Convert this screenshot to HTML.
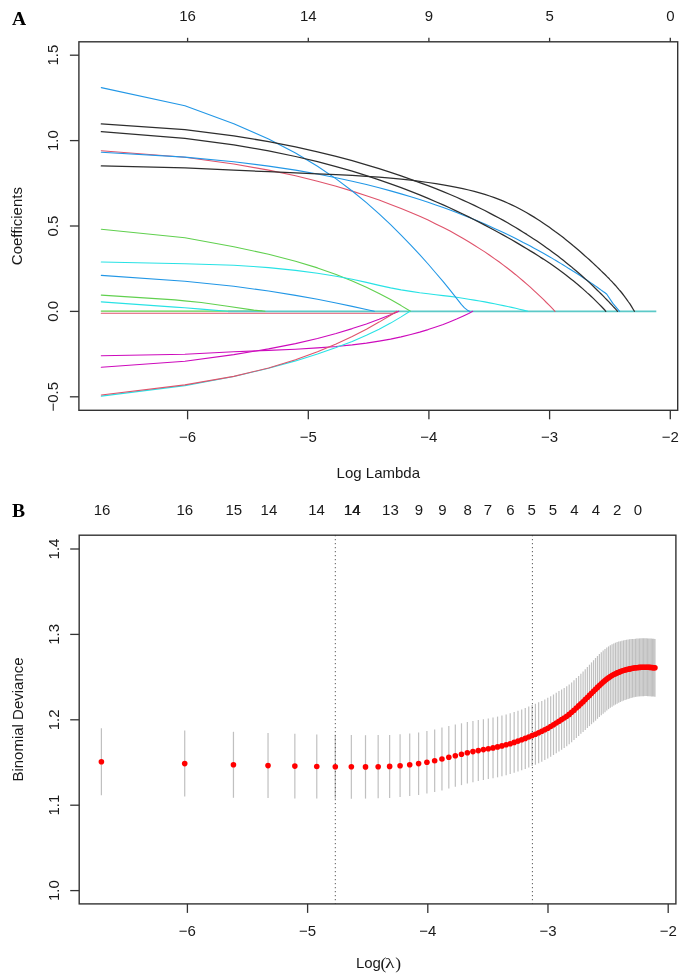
<!DOCTYPE html>
<html><head><meta charset="utf-8"><style>
html,body{margin:0;padding:0;background:#fff;}
body{width:685px;height:973px;overflow:hidden;font-family:"Liberation Sans",sans-serif;}
svg{display:block;filter:blur(0.3px);}
</style></head><body>
<svg width="685" height="973" viewBox="0 0 685 973">
<rect width="685" height="973" fill="#fff"/>
<polyline points="101.3,313.3 394.0,313.3 399.0,311.3" fill="none" stroke="#DF536B" stroke-width="1.1" stroke-linejoin="round" stroke-linecap="round"/>
<polyline points="101.3,311.1 262.0,311.1" fill="none" stroke="#61D04F" stroke-width="1.25" stroke-linejoin="round" stroke-linecap="round"/>
<line x1="228" y1="311.3" x2="656.3" y2="311.3" stroke="#5CC9C8" stroke-width="1.7"/>
<polyline points="101.3,295.1 175.0,299.9 184.5,300.9 201.3,302.5 227.6,306.2 253.8,310.1 265.0,311.3" fill="none" stroke="#61D04F" stroke-width="1.1" stroke-linejoin="round" stroke-linecap="round"/>
<polyline points="101.3,301.9 175.0,307.1 184.5,307.8 201.3,309.1 227.6,311.3" fill="none" stroke="#28E2E5" stroke-width="1.1" stroke-linejoin="round" stroke-linecap="round"/>
<polyline points="101.3,275.4 184.9,281.3 233.8,286.3 268.6,291.0 295.5,295.4 317.5,299.3 336.1,303.0 352.2,306.4 366.4,309.5 374.3,311.3" fill="none" stroke="#2297E6" stroke-width="1.1" stroke-linejoin="round" stroke-linecap="round"/>
<polyline points="101.3,229.2 184.9,237.7 233.8,246.7 268.6,254.2 295.5,261.2 317.5,267.9 336.1,274.5 352.2,280.9 366.4,287.3 379.1,293.5 390.6,299.6 401.1,305.6 410.5,311.3" fill="none" stroke="#61D04F" stroke-width="1.1" stroke-linejoin="round" stroke-linecap="round"/>
<polyline points="101.3,262.0 184.9,263.8 233.8,265.2 268.6,267.6 295.5,270.4 317.5,273.3 336.1,276.2 352.2,279.3 366.4,282.4 379.1,285.4 390.6,287.9 401.1,289.9 410.8,291.4 419.7,292.7 428.1,293.7 435.8,294.7 443.2,295.6 450.1,296.4 456.6,297.3 462.8,298.3 468.7,299.2 474.3,300.1 479.6,301.0 484.8,301.9 489.7,302.9 494.4,303.8 499.0,304.7 503.4,305.6 507.6,306.5 511.7,307.4 515.7,308.3 519.5,309.2 523.2,310.1 526.8,311.0 527.8,311.3" fill="none" stroke="#28E2E5" stroke-width="1.1" stroke-linejoin="round" stroke-linecap="round"/>
<polyline points="101.3,355.8 184.9,354.3 233.8,351.8 268.6,350.4 295.5,349.2 317.5,347.9 336.1,346.5 352.2,344.9 366.4,343.1 379.1,341.1 390.6,339.1 401.1,336.9 410.8,334.5 419.7,332.1 428.1,329.6 435.8,327.0 443.2,324.4 450.1,321.7 456.6,319.0 462.8,316.2 468.7,313.4 472.7,311.3" fill="none" stroke="#CD0BBC" stroke-width="1.1" stroke-linejoin="round" stroke-linecap="round"/>
<polyline points="101.3,367.2 184.9,361.2 233.8,354.6 268.6,348.9 295.5,343.6 317.5,338.5 336.1,333.5 352.2,328.6 366.4,323.9 379.1,319.3 390.6,314.7 398.7,311.3" fill="none" stroke="#CD0BBC" stroke-width="1.1" stroke-linejoin="round" stroke-linecap="round"/>
<polyline points="101.3,396.1 184.9,385.6 233.8,376.5 268.6,368.3 295.5,360.9 317.5,354.0 336.1,347.6 352.2,341.4 366.4,335.3 379.1,329.2 390.6,323.1 401.1,316.9 410.0,311.3" fill="none" stroke="#28E2E5" stroke-width="1.1" stroke-linejoin="round" stroke-linecap="round"/>
<polyline points="101.3,395.0 184.9,384.9 233.8,376.4 268.6,368.0 295.5,359.8 317.5,351.8 336.1,344.0 352.2,336.5 366.4,329.2 379.1,322.1 390.6,315.2 396.8,311.3" fill="none" stroke="#DF536B" stroke-width="1.1" stroke-linejoin="round" stroke-linecap="round"/>
<polyline points="101.3,150.7 184.9,157.2 233.8,164.0 268.6,170.1 295.5,175.8 317.5,181.2 336.1,186.2 352.2,191.1 366.4,195.7 379.1,200.1 390.6,204.4 401.1,208.5 410.8,212.4 419.7,216.3 428.1,220.1 435.8,223.9 443.2,227.5 450.1,231.1 456.6,234.7 462.8,238.2 468.7,241.7 474.3,245.2 479.6,248.6 484.8,251.9 489.7,255.3 494.4,258.6 499.0,261.8 503.4,265.1 507.6,268.3 511.7,271.5 515.7,274.7 519.5,277.9 523.2,281.0 526.8,284.1 530.3,287.2 533.7,290.3 537.0,293.4 540.2,296.4 543.4,299.4 546.4,302.5 549.4,305.4 552.3,308.4 555.0,311.3" fill="none" stroke="#DF536B" stroke-width="1.1" stroke-linejoin="round" stroke-linecap="round"/>
<polyline points="101.3,152.2 184.9,157.1 233.8,161.7 268.6,166.1 295.5,170.1 317.5,174.0 336.1,177.7 352.2,181.2 366.4,184.5 379.1,187.8 390.6,190.9 401.1,193.9 410.8,196.8 419.7,199.6 428.1,202.3 435.8,205.0 443.2,207.5 450.1,210.1 456.6,212.5 462.8,214.9 468.7,217.3 474.3,219.6 479.6,221.8 484.8,224.1 489.7,226.2 494.4,228.4 499.0,230.5 503.4,232.5 507.6,234.6 511.7,236.5 515.7,238.5 519.5,240.4 523.2,242.4 526.8,244.2 530.3,246.1 533.7,247.9 537.0,249.7 540.2,251.5 543.4,253.3 546.4,255.0 549.4,256.7 552.3,258.4 555.1,260.1 557.9,261.7 560.6,263.4 563.3,265.0 565.9,266.6 568.4,268.2 570.9,269.7 573.3,271.3 575.7,272.8 578.1,274.3 580.4,275.8 582.6,277.3 584.8,278.8 587.0,280.2 589.2,281.7 591.3,283.1 593.3,284.5 595.3,285.9 597.3,287.3 599.3,288.7 601.2,290.1 603.1,291.5 605.0,292.8 606.8,294.2 612.9,303.4 619.6,311.3" fill="none" stroke="#2297E6" stroke-width="1.1" stroke-linejoin="round" stroke-linecap="round"/>
<polyline points="101.3,87.6 184.9,105.8 233.8,123.7 268.6,139.0 295.5,153.0 317.5,166.3 336.1,178.9 352.2,191.0 366.4,202.7 379.1,213.9 390.6,224.7 401.1,235.1 410.8,245.1 419.7,254.7 428.1,264.0 435.8,273.0 443.2,281.7 450.1,290.2 456.6,298.4 461.5,304.7 464.5,307.9 468.0,310.6 469.5,311.3" fill="none" stroke="#2297E6" stroke-width="1.1" stroke-linejoin="round" stroke-linecap="round"/>
<polyline points="101.3,165.9 184.9,167.9 233.8,170.2 268.6,171.7 295.5,172.8 317.5,173.8 336.1,174.6 352.2,175.4 366.4,176.3 379.1,177.2 390.6,178.1 401.1,179.1 410.8,180.2 419.7,181.3 428.1,182.5 435.8,183.6 443.2,184.9 450.1,186.1 456.6,187.4 462.8,188.7 468.7,190.0 474.3,191.4 479.6,192.9 484.8,194.4 489.7,196.0 494.4,197.6 499.0,199.3 503.4,201.1 507.6,203.0 511.7,204.9 515.7,206.8 519.5,208.8 523.2,210.8 526.8,212.8 530.3,214.9 533.7,216.9 537.0,219.0 540.2,221.1 543.4,223.2 546.4,225.2 549.4,227.3 552.3,229.4 555.1,231.5 557.9,233.5 560.6,235.6 563.3,237.6 565.9,239.7 568.4,241.7 570.9,243.7 573.3,245.8 575.7,247.8 578.1,249.8 580.4,251.7 582.6,253.7 584.8,255.7 587.0,257.6 589.2,259.5 591.3,261.5 593.3,263.4 595.3,265.3 597.3,267.1 599.3,269.0 601.2,270.9 603.1,272.7 605.0,274.5 606.8,276.4 608.7,278.2 610.4,280.1 612.2,281.9 613.9,283.8 615.7,285.7 617.3,287.6 619.0,289.6 620.7,291.5 622.3,293.5 623.9,295.6 625.4,297.7 627.0,299.8 628.5,302.0 630.1,304.2 631.6,306.6 633.0,309.0 634.4,311.3" fill="none" stroke="#2e2e2e" stroke-width="1.25" stroke-linejoin="round" stroke-linecap="round"/>
<polyline points="101.3,131.7 184.9,138.3 233.8,144.9 268.6,150.9 295.5,156.5 317.5,161.7 336.1,166.6 352.2,171.2 366.4,175.6 379.1,179.8 390.6,183.8 401.1,187.7 410.8,191.4 419.7,194.9 428.1,198.4 435.8,201.7 443.2,204.9 450.1,208.0 456.6,211.1 462.8,214.0 468.7,216.9 474.3,219.7 479.6,222.4 484.8,225.1 489.7,227.7 494.4,230.2 499.0,232.7 503.4,235.1 507.6,237.5 511.7,239.8 515.7,242.1 519.5,244.4 523.2,246.6 526.8,248.7 530.3,250.9 533.7,252.9 537.0,255.0 540.2,257.1 543.4,259.1 546.4,261.1 549.4,263.1 552.3,265.1 555.1,267.1 557.9,269.1 560.6,271.0 563.3,273.0 565.9,274.9 568.4,276.9 570.9,278.9 573.3,280.8 575.7,282.8 578.1,284.7 580.4,286.7 582.6,288.6 584.8,290.6 587.0,292.6 589.2,294.5 591.3,296.5 593.3,298.4 595.3,300.4 597.3,302.4 599.3,304.4 601.2,306.3 603.1,308.3 605.0,310.3 605.8,311.3" fill="none" stroke="#2e2e2e" stroke-width="1.25" stroke-linejoin="round" stroke-linecap="round"/>
<polyline points="101.3,123.9 184.9,129.6 233.8,135.8 268.6,141.6 295.5,146.9 317.5,151.8 336.1,156.4 352.2,160.7 366.4,164.8 379.1,168.7 390.6,172.4 401.1,175.9 410.8,179.3 419.7,182.6 428.1,185.7 435.8,188.7 443.2,191.7 450.1,194.5 456.6,197.3 462.8,200.1 468.7,202.7 474.3,205.4 479.6,208.0 484.8,210.5 489.7,213.1 494.4,215.6 499.0,218.0 503.4,220.4 507.6,222.8 511.7,225.2 515.7,227.5 519.5,229.9 523.2,232.2 526.8,234.4 530.3,236.7 533.7,238.9 537.0,241.1 540.2,243.3 543.4,245.5 546.4,247.7 549.4,249.8 552.3,251.9 555.1,254.0 557.9,256.1 560.6,258.2 563.3,260.3 565.9,262.4 568.4,264.4 570.9,266.4 573.3,268.5 575.7,270.5 578.1,272.5 580.4,274.5 582.6,276.5 584.8,278.5 587.0,280.4 589.2,282.4 591.3,284.4 593.3,286.3 595.3,288.3 597.3,290.2 599.3,292.1 601.2,294.0 603.1,295.9 605.0,297.9 606.8,299.7 608.7,301.6 610.4,303.5 612.2,305.4 613.9,307.3 615.7,309.1 617.5,311.3" fill="none" stroke="#2e2e2e" stroke-width="1.25" stroke-linejoin="round" stroke-linecap="round"/>
<rect x="78.9" y="41.8" width="598.8" height="368.5" fill="none" stroke="#333" stroke-width="1.4"/>
<line x1="187.6" y1="410.3" x2="187.6" y2="419.3" stroke="#333" stroke-width="1.3"/>
<text x="187.6" y="442.3" font-family="'Liberation Sans', sans-serif" font-size="15" fill="#1a1a1a" text-anchor="middle">−6</text>
<line x1="308.3" y1="410.3" x2="308.3" y2="419.3" stroke="#333" stroke-width="1.3"/>
<text x="308.3" y="442.3" font-family="'Liberation Sans', sans-serif" font-size="15" fill="#1a1a1a" text-anchor="middle">−5</text>
<line x1="428.9" y1="410.3" x2="428.9" y2="419.3" stroke="#333" stroke-width="1.3"/>
<text x="428.9" y="442.3" font-family="'Liberation Sans', sans-serif" font-size="15" fill="#1a1a1a" text-anchor="middle">−4</text>
<line x1="549.6" y1="410.3" x2="549.6" y2="419.3" stroke="#333" stroke-width="1.3"/>
<text x="549.6" y="442.3" font-family="'Liberation Sans', sans-serif" font-size="15" fill="#1a1a1a" text-anchor="middle">−3</text>
<line x1="670.3" y1="410.3" x2="670.3" y2="419.3" stroke="#333" stroke-width="1.3"/>
<text x="670.3" y="442.3" font-family="'Liberation Sans', sans-serif" font-size="15" fill="#1a1a1a" text-anchor="middle">−2</text>
<line x1="69.9" y1="396.8" x2="78.9" y2="396.8" stroke="#333" stroke-width="1.3"/>
<text transform="translate(57.9,396.8) rotate(-90)" font-family="'Liberation Sans', sans-serif" font-size="15" fill="#1a1a1a" text-anchor="middle">−0.5</text>
<line x1="69.9" y1="311.4" x2="78.9" y2="311.4" stroke="#333" stroke-width="1.3"/>
<text transform="translate(57.9,311.4) rotate(-90)" font-family="'Liberation Sans', sans-serif" font-size="15" fill="#1a1a1a" text-anchor="middle">0.0</text>
<line x1="69.9" y1="226.0" x2="78.9" y2="226.0" stroke="#333" stroke-width="1.3"/>
<text transform="translate(57.9,226.0) rotate(-90)" font-family="'Liberation Sans', sans-serif" font-size="15" fill="#1a1a1a" text-anchor="middle">0.5</text>
<line x1="69.9" y1="140.6" x2="78.9" y2="140.6" stroke="#333" stroke-width="1.3"/>
<text transform="translate(57.9,140.6) rotate(-90)" font-family="'Liberation Sans', sans-serif" font-size="15" fill="#1a1a1a" text-anchor="middle">1.0</text>
<line x1="69.9" y1="55.2" x2="78.9" y2="55.2" stroke="#333" stroke-width="1.3"/>
<text transform="translate(57.9,55.2) rotate(-90)" font-family="'Liberation Sans', sans-serif" font-size="15" fill="#1a1a1a" text-anchor="middle">1.5</text>
<line x1="187.6" y1="37.8" x2="187.6" y2="41.8" stroke="#333" stroke-width="1.3"/>
<text x="187.6" y="21.1" font-family="'Liberation Sans', sans-serif" font-size="15" fill="#1a1a1a" text-anchor="middle">16</text>
<line x1="308.3" y1="37.8" x2="308.3" y2="41.8" stroke="#333" stroke-width="1.3"/>
<text x="308.3" y="21.1" font-family="'Liberation Sans', sans-serif" font-size="15" fill="#1a1a1a" text-anchor="middle">14</text>
<line x1="428.9" y1="37.8" x2="428.9" y2="41.8" stroke="#333" stroke-width="1.3"/>
<text x="428.9" y="21.1" font-family="'Liberation Sans', sans-serif" font-size="15" fill="#1a1a1a" text-anchor="middle">9</text>
<line x1="549.6" y1="37.8" x2="549.6" y2="41.8" stroke="#333" stroke-width="1.3"/>
<text x="549.6" y="21.1" font-family="'Liberation Sans', sans-serif" font-size="15" fill="#1a1a1a" text-anchor="middle">5</text>
<line x1="670.3" y1="37.8" x2="670.3" y2="41.8" stroke="#333" stroke-width="1.3"/>
<text x="670.3" y="21.1" font-family="'Liberation Sans', sans-serif" font-size="15" fill="#1a1a1a" text-anchor="middle">0</text>
<text x="378.3" y="478.1" font-family="'Liberation Sans', sans-serif" font-size="15" fill="#1a1a1a" text-anchor="middle">Log Lambda</text>
<text transform="translate(22.2,226.1) rotate(-90)" font-family="'Liberation Sans', sans-serif" font-size="15" fill="#1a1a1a" text-anchor="middle">Coefficients</text>
<text x="11.9" y="24.5" font-family="'Liberation Serif', serif" font-weight="bold" font-size="19.6" fill="#000">A</text>
<line x1="101.40" y1="728.2" x2="101.40" y2="795.2" stroke="#9a9a9a" stroke-opacity="0.62" stroke-width="1.2"/>
<line x1="184.72" y1="730.6" x2="184.72" y2="796.6" stroke="#9a9a9a" stroke-opacity="0.62" stroke-width="1.2"/>
<line x1="233.45" y1="731.8" x2="233.45" y2="797.8" stroke="#9a9a9a" stroke-opacity="0.62" stroke-width="1.2"/>
<line x1="268.03" y1="733.1" x2="268.03" y2="798.1" stroke="#9a9a9a" stroke-opacity="0.62" stroke-width="1.2"/>
<line x1="294.85" y1="733.8" x2="294.85" y2="798.5" stroke="#9a9a9a" stroke-opacity="0.62" stroke-width="1.2"/>
<line x1="316.77" y1="734.4" x2="316.77" y2="798.6" stroke="#9a9a9a" stroke-opacity="0.62" stroke-width="1.2"/>
<line x1="335.30" y1="734.8" x2="335.30" y2="798.7" stroke="#9a9a9a" stroke-opacity="0.62" stroke-width="1.2"/>
<line x1="351.35" y1="735.0" x2="351.35" y2="798.7" stroke="#9a9a9a" stroke-opacity="0.62" stroke-width="1.2"/>
<line x1="365.51" y1="735.2" x2="365.51" y2="798.6" stroke="#9a9a9a" stroke-opacity="0.62" stroke-width="1.2"/>
<line x1="378.17" y1="735.1" x2="378.17" y2="798.3" stroke="#9a9a9a" stroke-opacity="0.62" stroke-width="1.2"/>
<line x1="389.63" y1="734.9" x2="389.63" y2="797.9" stroke="#9a9a9a" stroke-opacity="0.62" stroke-width="1.2"/>
<line x1="400.08" y1="734.3" x2="400.08" y2="797.1" stroke="#9a9a9a" stroke-opacity="0.62" stroke-width="1.2"/>
<line x1="409.71" y1="733.5" x2="409.71" y2="796.1" stroke="#9a9a9a" stroke-opacity="0.62" stroke-width="1.2"/>
<line x1="418.61" y1="732.4" x2="418.61" y2="794.9" stroke="#9a9a9a" stroke-opacity="0.62" stroke-width="1.2"/>
<line x1="426.91" y1="731.1" x2="426.91" y2="793.5" stroke="#9a9a9a" stroke-opacity="0.62" stroke-width="1.2"/>
<line x1="434.66" y1="729.4" x2="434.66" y2="792.0" stroke="#9a9a9a" stroke-opacity="0.62" stroke-width="1.2"/>
<line x1="441.95" y1="727.6" x2="441.95" y2="790.4" stroke="#9a9a9a" stroke-opacity="0.62" stroke-width="1.2"/>
<line x1="448.82" y1="726.1" x2="448.82" y2="788.6" stroke="#9a9a9a" stroke-opacity="0.62" stroke-width="1.2"/>
<line x1="455.32" y1="724.6" x2="455.32" y2="786.8" stroke="#9a9a9a" stroke-opacity="0.62" stroke-width="1.2"/>
<line x1="461.49" y1="723.3" x2="461.49" y2="785.1" stroke="#9a9a9a" stroke-opacity="0.62" stroke-width="1.2"/>
<line x1="467.35" y1="722.0" x2="467.35" y2="783.6" stroke="#9a9a9a" stroke-opacity="0.62" stroke-width="1.2"/>
<line x1="472.94" y1="721.0" x2="472.94" y2="782.3" stroke="#9a9a9a" stroke-opacity="0.62" stroke-width="1.2"/>
<line x1="478.29" y1="720.1" x2="478.29" y2="781.1" stroke="#9a9a9a" stroke-opacity="0.62" stroke-width="1.2"/>
<line x1="483.40" y1="719.2" x2="483.40" y2="780.0" stroke="#9a9a9a" stroke-opacity="0.62" stroke-width="1.2"/>
<line x1="488.31" y1="718.4" x2="488.31" y2="779.1" stroke="#9a9a9a" stroke-opacity="0.62" stroke-width="1.2"/>
<line x1="493.02" y1="717.5" x2="493.02" y2="778.2" stroke="#9a9a9a" stroke-opacity="0.62" stroke-width="1.2"/>
<line x1="497.56" y1="716.6" x2="497.56" y2="777.3" stroke="#9a9a9a" stroke-opacity="0.62" stroke-width="1.2"/>
<line x1="501.93" y1="715.6" x2="501.93" y2="776.2" stroke="#9a9a9a" stroke-opacity="0.62" stroke-width="1.2"/>
<line x1="506.15" y1="714.5" x2="506.15" y2="775.2" stroke="#9a9a9a" stroke-opacity="0.62" stroke-width="1.2"/>
<line x1="510.22" y1="713.3" x2="510.22" y2="774.0" stroke="#9a9a9a" stroke-opacity="0.62" stroke-width="1.2"/>
<line x1="514.16" y1="712.0" x2="514.16" y2="772.8" stroke="#9a9a9a" stroke-opacity="0.62" stroke-width="1.2"/>
<line x1="517.98" y1="710.7" x2="517.98" y2="771.5" stroke="#9a9a9a" stroke-opacity="0.62" stroke-width="1.2"/>
<line x1="521.68" y1="709.4" x2="521.68" y2="770.2" stroke="#9a9a9a" stroke-opacity="0.62" stroke-width="1.2"/>
<line x1="525.27" y1="708.0" x2="525.27" y2="768.9" stroke="#9a9a9a" stroke-opacity="0.62" stroke-width="1.2"/>
<line x1="528.75" y1="706.6" x2="528.75" y2="767.5" stroke="#9a9a9a" stroke-opacity="0.62" stroke-width="1.2"/>
<line x1="532.14" y1="705.1" x2="532.14" y2="766.1" stroke="#9a9a9a" stroke-opacity="0.62" stroke-width="1.2"/>
<line x1="535.43" y1="703.8" x2="535.43" y2="764.7" stroke="#9a9a9a" stroke-opacity="0.62" stroke-width="1.2"/>
<line x1="538.64" y1="702.3" x2="538.64" y2="763.2" stroke="#9a9a9a" stroke-opacity="0.62" stroke-width="1.2"/>
<line x1="541.76" y1="700.9" x2="541.76" y2="761.7" stroke="#9a9a9a" stroke-opacity="0.62" stroke-width="1.2"/>
<line x1="544.80" y1="699.4" x2="544.80" y2="760.1" stroke="#9a9a9a" stroke-opacity="0.62" stroke-width="1.2"/>
<line x1="547.77" y1="697.8" x2="547.77" y2="758.5" stroke="#9a9a9a" stroke-opacity="0.62" stroke-width="1.2"/>
<line x1="550.67" y1="696.2" x2="550.67" y2="756.8" stroke="#9a9a9a" stroke-opacity="0.62" stroke-width="1.2"/>
<line x1="553.50" y1="694.5" x2="553.50" y2="755.0" stroke="#9a9a9a" stroke-opacity="0.62" stroke-width="1.2"/>
<line x1="556.26" y1="692.8" x2="556.26" y2="753.2" stroke="#9a9a9a" stroke-opacity="0.62" stroke-width="1.2"/>
<line x1="558.96" y1="691.1" x2="558.96" y2="751.4" stroke="#9a9a9a" stroke-opacity="0.62" stroke-width="1.2"/>
<line x1="561.60" y1="689.5" x2="561.60" y2="749.7" stroke="#9a9a9a" stroke-opacity="0.62" stroke-width="1.2"/>
<line x1="564.19" y1="688.0" x2="564.19" y2="747.9" stroke="#9a9a9a" stroke-opacity="0.62" stroke-width="1.2"/>
<line x1="566.72" y1="686.3" x2="566.72" y2="746.2" stroke="#9a9a9a" stroke-opacity="0.62" stroke-width="1.2"/>
<line x1="569.20" y1="684.5" x2="569.20" y2="744.2" stroke="#9a9a9a" stroke-opacity="0.62" stroke-width="1.2"/>
<line x1="571.62" y1="682.5" x2="571.62" y2="742.2" stroke="#9a9a9a" stroke-opacity="0.62" stroke-width="1.2"/>
<line x1="574.00" y1="680.3" x2="574.00" y2="740.1" stroke="#9a9a9a" stroke-opacity="0.62" stroke-width="1.2"/>
<line x1="576.34" y1="678.1" x2="576.34" y2="737.9" stroke="#9a9a9a" stroke-opacity="0.62" stroke-width="1.2"/>
<line x1="578.63" y1="675.9" x2="578.63" y2="735.9" stroke="#9a9a9a" stroke-opacity="0.62" stroke-width="1.2"/>
<line x1="580.87" y1="673.7" x2="580.87" y2="733.8" stroke="#9a9a9a" stroke-opacity="0.62" stroke-width="1.2"/>
<line x1="583.08" y1="671.5" x2="583.08" y2="731.9" stroke="#9a9a9a" stroke-opacity="0.62" stroke-width="1.2"/>
<line x1="585.25" y1="669.3" x2="585.25" y2="729.9" stroke="#9a9a9a" stroke-opacity="0.62" stroke-width="1.2"/>
<line x1="587.37" y1="667.0" x2="587.37" y2="727.9" stroke="#9a9a9a" stroke-opacity="0.62" stroke-width="1.2"/>
<line x1="589.46" y1="664.7" x2="589.46" y2="726.1" stroke="#9a9a9a" stroke-opacity="0.62" stroke-width="1.2"/>
<line x1="591.52" y1="662.4" x2="591.52" y2="724.2" stroke="#9a9a9a" stroke-opacity="0.62" stroke-width="1.2"/>
<line x1="593.54" y1="660.2" x2="593.54" y2="722.4" stroke="#9a9a9a" stroke-opacity="0.62" stroke-width="1.2"/>
<line x1="595.53" y1="658.0" x2="595.53" y2="720.7" stroke="#9a9a9a" stroke-opacity="0.62" stroke-width="1.2"/>
<line x1="597.48" y1="656.0" x2="597.48" y2="718.8" stroke="#9a9a9a" stroke-opacity="0.62" stroke-width="1.2"/>
<line x1="599.40" y1="654.1" x2="599.40" y2="717.0" stroke="#9a9a9a" stroke-opacity="0.62" stroke-width="1.2"/>
<line x1="601.30" y1="652.3" x2="601.30" y2="715.3" stroke="#9a9a9a" stroke-opacity="0.62" stroke-width="1.2"/>
<line x1="603.16" y1="650.6" x2="603.16" y2="713.7" stroke="#9a9a9a" stroke-opacity="0.62" stroke-width="1.2"/>
<line x1="605.00" y1="649.0" x2="605.00" y2="712.2" stroke="#9a9a9a" stroke-opacity="0.62" stroke-width="1.2"/>
<line x1="606.80" y1="647.6" x2="606.80" y2="710.6" stroke="#9a9a9a" stroke-opacity="0.62" stroke-width="1.2"/>
<line x1="608.58" y1="646.4" x2="608.58" y2="709.1" stroke="#9a9a9a" stroke-opacity="0.62" stroke-width="1.2"/>
<line x1="610.34" y1="645.3" x2="610.34" y2="707.8" stroke="#9a9a9a" stroke-opacity="0.62" stroke-width="1.2"/>
<line x1="612.07" y1="644.3" x2="612.07" y2="706.7" stroke="#9a9a9a" stroke-opacity="0.62" stroke-width="1.2"/>
<line x1="613.77" y1="643.5" x2="613.77" y2="705.6" stroke="#9a9a9a" stroke-opacity="0.62" stroke-width="1.2"/>
<line x1="615.45" y1="642.7" x2="615.45" y2="704.6" stroke="#9a9a9a" stroke-opacity="0.62" stroke-width="1.2"/>
<line x1="617.11" y1="642.1" x2="617.11" y2="703.7" stroke="#9a9a9a" stroke-opacity="0.62" stroke-width="1.2"/>
<line x1="618.75" y1="641.6" x2="618.75" y2="702.8" stroke="#9a9a9a" stroke-opacity="0.62" stroke-width="1.2"/>
<line x1="620.36" y1="641.2" x2="620.36" y2="702.0" stroke="#9a9a9a" stroke-opacity="0.62" stroke-width="1.2"/>
<line x1="621.95" y1="640.8" x2="621.95" y2="701.2" stroke="#9a9a9a" stroke-opacity="0.62" stroke-width="1.2"/>
<line x1="623.52" y1="640.4" x2="623.52" y2="700.6" stroke="#9a9a9a" stroke-opacity="0.62" stroke-width="1.2"/>
<line x1="625.08" y1="640.1" x2="625.08" y2="699.9" stroke="#9a9a9a" stroke-opacity="0.62" stroke-width="1.2"/>
<line x1="626.61" y1="639.8" x2="626.61" y2="699.4" stroke="#9a9a9a" stroke-opacity="0.62" stroke-width="1.2"/>
<line x1="628.12" y1="639.6" x2="628.12" y2="698.9" stroke="#9a9a9a" stroke-opacity="0.62" stroke-width="1.2"/>
<line x1="629.61" y1="639.3" x2="629.61" y2="698.4" stroke="#9a9a9a" stroke-opacity="0.62" stroke-width="1.2"/>
<line x1="631.09" y1="639.1" x2="631.09" y2="698.0" stroke="#9a9a9a" stroke-opacity="0.62" stroke-width="1.2"/>
<line x1="632.54" y1="639.0" x2="632.54" y2="697.6" stroke="#9a9a9a" stroke-opacity="0.62" stroke-width="1.2"/>
<line x1="633.98" y1="638.9" x2="633.98" y2="697.2" stroke="#9a9a9a" stroke-opacity="0.62" stroke-width="1.2"/>
<line x1="635.41" y1="638.8" x2="635.41" y2="696.9" stroke="#9a9a9a" stroke-opacity="0.62" stroke-width="1.2"/>
<line x1="636.81" y1="638.6" x2="636.81" y2="696.7" stroke="#9a9a9a" stroke-opacity="0.62" stroke-width="1.2"/>
<line x1="638.20" y1="638.5" x2="638.20" y2="696.6" stroke="#9a9a9a" stroke-opacity="0.62" stroke-width="1.2"/>
<line x1="639.57" y1="638.4" x2="639.57" y2="696.4" stroke="#9a9a9a" stroke-opacity="0.62" stroke-width="1.2"/>
<line x1="640.93" y1="638.3" x2="640.93" y2="696.3" stroke="#9a9a9a" stroke-opacity="0.62" stroke-width="1.2"/>
<line x1="642.28" y1="638.3" x2="642.28" y2="696.2" stroke="#9a9a9a" stroke-opacity="0.62" stroke-width="1.2"/>
<line x1="643.60" y1="638.3" x2="643.60" y2="696.2" stroke="#9a9a9a" stroke-opacity="0.62" stroke-width="1.2"/>
<line x1="644.92" y1="638.3" x2="644.92" y2="696.1" stroke="#9a9a9a" stroke-opacity="0.62" stroke-width="1.2"/>
<line x1="646.22" y1="638.3" x2="646.22" y2="696.1" stroke="#9a9a9a" stroke-opacity="0.62" stroke-width="1.2"/>
<line x1="647.50" y1="638.4" x2="647.50" y2="696.2" stroke="#9a9a9a" stroke-opacity="0.62" stroke-width="1.2"/>
<line x1="648.77" y1="638.4" x2="648.77" y2="696.2" stroke="#9a9a9a" stroke-opacity="0.62" stroke-width="1.2"/>
<line x1="650.03" y1="638.5" x2="650.03" y2="696.3" stroke="#9a9a9a" stroke-opacity="0.62" stroke-width="1.2"/>
<line x1="651.28" y1="638.6" x2="651.28" y2="696.4" stroke="#9a9a9a" stroke-opacity="0.62" stroke-width="1.2"/>
<line x1="652.51" y1="638.7" x2="652.51" y2="696.5" stroke="#9a9a9a" stroke-opacity="0.62" stroke-width="1.2"/>
<line x1="653.73" y1="638.8" x2="653.73" y2="696.6" stroke="#9a9a9a" stroke-opacity="0.62" stroke-width="1.2"/>
<line x1="654.94" y1="638.9" x2="654.94" y2="696.7" stroke="#9a9a9a" stroke-opacity="0.62" stroke-width="1.2"/>
<line x1="335.3" y1="535.2" x2="335.3" y2="903.9" stroke="#333" stroke-width="1" stroke-dasharray="1,3"/>
<line x1="532.4" y1="535.2" x2="532.4" y2="903.9" stroke="#333" stroke-width="1" stroke-dasharray="1,3"/>
<circle cx="101.40" cy="761.7" r="2.8" fill="#FF0000"/>
<circle cx="184.72" cy="763.6" r="2.8" fill="#FF0000"/>
<circle cx="233.45" cy="764.8" r="2.8" fill="#FF0000"/>
<circle cx="268.03" cy="765.6" r="2.8" fill="#FF0000"/>
<circle cx="294.85" cy="766.1" r="2.8" fill="#FF0000"/>
<circle cx="316.77" cy="766.5" r="2.8" fill="#FF0000"/>
<circle cx="335.30" cy="766.7" r="2.8" fill="#FF0000"/>
<circle cx="351.35" cy="766.8" r="2.8" fill="#FF0000"/>
<circle cx="365.51" cy="766.9" r="2.8" fill="#FF0000"/>
<circle cx="378.17" cy="766.7" r="2.8" fill="#FF0000"/>
<circle cx="389.63" cy="766.4" r="2.8" fill="#FF0000"/>
<circle cx="400.08" cy="765.7" r="2.8" fill="#FF0000"/>
<circle cx="409.71" cy="764.8" r="2.8" fill="#FF0000"/>
<circle cx="418.61" cy="763.6" r="2.8" fill="#FF0000"/>
<circle cx="426.91" cy="762.3" r="2.8" fill="#FF0000"/>
<circle cx="434.66" cy="760.7" r="2.8" fill="#FF0000"/>
<circle cx="441.95" cy="759.0" r="2.8" fill="#FF0000"/>
<circle cx="448.82" cy="757.3" r="2.8" fill="#FF0000"/>
<circle cx="455.32" cy="755.7" r="2.8" fill="#FF0000"/>
<circle cx="461.49" cy="754.2" r="2.8" fill="#FF0000"/>
<circle cx="467.35" cy="752.8" r="2.8" fill="#FF0000"/>
<circle cx="472.94" cy="751.6" r="2.8" fill="#FF0000"/>
<circle cx="478.29" cy="750.6" r="2.8" fill="#FF0000"/>
<circle cx="483.40" cy="749.6" r="2.8" fill="#FF0000"/>
<circle cx="488.31" cy="748.8" r="2.8" fill="#FF0000"/>
<circle cx="493.02" cy="747.9" r="2.8" fill="#FF0000"/>
<circle cx="497.56" cy="746.9" r="2.8" fill="#FF0000"/>
<circle cx="501.93" cy="745.9" r="2.8" fill="#FF0000"/>
<circle cx="506.15" cy="744.8" r="2.8" fill="#FF0000"/>
<circle cx="510.22" cy="743.7" r="2.8" fill="#FF0000"/>
<circle cx="514.16" cy="742.4" r="2.8" fill="#FF0000"/>
<circle cx="517.98" cy="741.1" r="2.8" fill="#FF0000"/>
<circle cx="521.68" cy="739.8" r="2.8" fill="#FF0000"/>
<circle cx="525.27" cy="738.4" r="2.8" fill="#FF0000"/>
<circle cx="528.75" cy="737.0" r="2.8" fill="#FF0000"/>
<circle cx="532.14" cy="735.6" r="2.8" fill="#FF0000"/>
<circle cx="535.43" cy="734.2" r="2.8" fill="#FF0000"/>
<circle cx="538.64" cy="732.8" r="2.8" fill="#FF0000"/>
<circle cx="541.76" cy="731.3" r="2.8" fill="#FF0000"/>
<circle cx="544.80" cy="729.7" r="2.8" fill="#FF0000"/>
<circle cx="547.77" cy="728.2" r="2.8" fill="#FF0000"/>
<circle cx="550.67" cy="726.5" r="2.8" fill="#FF0000"/>
<circle cx="553.50" cy="724.8" r="2.8" fill="#FF0000"/>
<circle cx="556.26" cy="723.0" r="2.8" fill="#FF0000"/>
<circle cx="558.96" cy="721.2" r="2.8" fill="#FF0000"/>
<circle cx="561.60" cy="719.6" r="2.8" fill="#FF0000"/>
<circle cx="564.19" cy="718.0" r="2.8" fill="#FF0000"/>
<circle cx="566.72" cy="716.3" r="2.8" fill="#FF0000"/>
<circle cx="569.20" cy="714.4" r="2.8" fill="#FF0000"/>
<circle cx="571.62" cy="712.3" r="2.8" fill="#FF0000"/>
<circle cx="574.00" cy="710.2" r="2.8" fill="#FF0000"/>
<circle cx="576.34" cy="708.0" r="2.8" fill="#FF0000"/>
<circle cx="578.63" cy="705.9" r="2.8" fill="#FF0000"/>
<circle cx="580.87" cy="703.8" r="2.8" fill="#FF0000"/>
<circle cx="583.08" cy="701.7" r="2.8" fill="#FF0000"/>
<circle cx="585.25" cy="699.6" r="2.8" fill="#FF0000"/>
<circle cx="587.37" cy="697.5" r="2.8" fill="#FF0000"/>
<circle cx="589.46" cy="695.4" r="2.8" fill="#FF0000"/>
<circle cx="591.52" cy="693.3" r="2.8" fill="#FF0000"/>
<circle cx="593.54" cy="691.3" r="2.8" fill="#FF0000"/>
<circle cx="595.53" cy="689.3" r="2.8" fill="#FF0000"/>
<circle cx="597.48" cy="687.4" r="2.8" fill="#FF0000"/>
<circle cx="599.40" cy="685.6" r="2.8" fill="#FF0000"/>
<circle cx="601.30" cy="683.8" r="2.8" fill="#FF0000"/>
<circle cx="603.16" cy="682.1" r="2.8" fill="#FF0000"/>
<circle cx="605.00" cy="680.6" r="2.8" fill="#FF0000"/>
<circle cx="606.80" cy="679.1" r="2.8" fill="#FF0000"/>
<circle cx="608.58" cy="677.8" r="2.8" fill="#FF0000"/>
<circle cx="610.34" cy="676.6" r="2.8" fill="#FF0000"/>
<circle cx="612.07" cy="675.5" r="2.8" fill="#FF0000"/>
<circle cx="613.77" cy="674.5" r="2.8" fill="#FF0000"/>
<circle cx="615.45" cy="673.7" r="2.8" fill="#FF0000"/>
<circle cx="617.11" cy="672.9" r="2.8" fill="#FF0000"/>
<circle cx="618.75" cy="672.2" r="2.8" fill="#FF0000"/>
<circle cx="620.36" cy="671.6" r="2.8" fill="#FF0000"/>
<circle cx="621.95" cy="671.0" r="2.8" fill="#FF0000"/>
<circle cx="623.52" cy="670.5" r="2.8" fill="#FF0000"/>
<circle cx="625.08" cy="670.0" r="2.8" fill="#FF0000"/>
<circle cx="626.61" cy="669.6" r="2.8" fill="#FF0000"/>
<circle cx="628.12" cy="669.2" r="2.8" fill="#FF0000"/>
<circle cx="629.61" cy="668.9" r="2.8" fill="#FF0000"/>
<circle cx="631.09" cy="668.6" r="2.8" fill="#FF0000"/>
<circle cx="632.54" cy="668.3" r="2.8" fill="#FF0000"/>
<circle cx="633.98" cy="668.0" r="2.8" fill="#FF0000"/>
<circle cx="635.41" cy="667.8" r="2.8" fill="#FF0000"/>
<circle cx="636.81" cy="667.7" r="2.8" fill="#FF0000"/>
<circle cx="638.20" cy="667.5" r="2.8" fill="#FF0000"/>
<circle cx="639.57" cy="667.4" r="2.8" fill="#FF0000"/>
<circle cx="640.93" cy="667.3" r="2.8" fill="#FF0000"/>
<circle cx="642.28" cy="667.3" r="2.8" fill="#FF0000"/>
<circle cx="643.60" cy="667.2" r="2.8" fill="#FF0000"/>
<circle cx="644.92" cy="667.2" r="2.8" fill="#FF0000"/>
<circle cx="646.22" cy="667.2" r="2.8" fill="#FF0000"/>
<circle cx="647.50" cy="667.3" r="2.8" fill="#FF0000"/>
<circle cx="648.77" cy="667.3" r="2.8" fill="#FF0000"/>
<circle cx="650.03" cy="667.4" r="2.8" fill="#FF0000"/>
<circle cx="651.28" cy="667.5" r="2.8" fill="#FF0000"/>
<circle cx="652.51" cy="667.6" r="2.8" fill="#FF0000"/>
<circle cx="653.73" cy="667.7" r="2.8" fill="#FF0000"/>
<circle cx="654.94" cy="667.8" r="2.8" fill="#FF0000"/>
<rect x="79.2" y="535.2" width="596.7" height="368.7" fill="none" stroke="#333" stroke-width="1.4"/>
<line x1="187.4" y1="903.9" x2="187.4" y2="912.9" stroke="#333" stroke-width="1.3"/>
<text x="187.4" y="936.2" font-family="'Liberation Sans', sans-serif" font-size="15" fill="#1a1a1a" text-anchor="middle">−6</text>
<line x1="307.6" y1="903.9" x2="307.6" y2="912.9" stroke="#333" stroke-width="1.3"/>
<text x="307.6" y="936.2" font-family="'Liberation Sans', sans-serif" font-size="15" fill="#1a1a1a" text-anchor="middle">−5</text>
<line x1="427.8" y1="903.9" x2="427.8" y2="912.9" stroke="#333" stroke-width="1.3"/>
<text x="427.8" y="936.2" font-family="'Liberation Sans', sans-serif" font-size="15" fill="#1a1a1a" text-anchor="middle">−4</text>
<line x1="548.0" y1="903.9" x2="548.0" y2="912.9" stroke="#333" stroke-width="1.3"/>
<text x="548.0" y="936.2" font-family="'Liberation Sans', sans-serif" font-size="15" fill="#1a1a1a" text-anchor="middle">−3</text>
<line x1="668.2" y1="903.9" x2="668.2" y2="912.9" stroke="#333" stroke-width="1.3"/>
<text x="668.2" y="936.2" font-family="'Liberation Sans', sans-serif" font-size="15" fill="#1a1a1a" text-anchor="middle">−2</text>
<line x1="70.2" y1="890.6" x2="79.2" y2="890.6" stroke="#333" stroke-width="1.3"/>
<text transform="translate(59.3,890.6) rotate(-90)" font-family="'Liberation Sans', sans-serif" font-size="15" fill="#1a1a1a" text-anchor="middle">1.0</text>
<line x1="70.2" y1="805.2" x2="79.2" y2="805.2" stroke="#333" stroke-width="1.3"/>
<text transform="translate(59.3,805.2) rotate(-90)" font-family="'Liberation Sans', sans-serif" font-size="15" fill="#1a1a1a" text-anchor="middle">1.1</text>
<line x1="70.2" y1="719.8" x2="79.2" y2="719.8" stroke="#333" stroke-width="1.3"/>
<text transform="translate(59.3,719.8) rotate(-90)" font-family="'Liberation Sans', sans-serif" font-size="15" fill="#1a1a1a" text-anchor="middle">1.2</text>
<line x1="70.2" y1="634.4" x2="79.2" y2="634.4" stroke="#333" stroke-width="1.3"/>
<text transform="translate(59.3,634.4) rotate(-90)" font-family="'Liberation Sans', sans-serif" font-size="15" fill="#1a1a1a" text-anchor="middle">1.3</text>
<line x1="70.2" y1="549.0" x2="79.2" y2="549.0" stroke="#333" stroke-width="1.3"/>
<text transform="translate(59.3,549.0) rotate(-90)" font-family="'Liberation Sans', sans-serif" font-size="15" fill="#1a1a1a" text-anchor="middle">1.4</text>
<text x="102" y="515.2" font-family="'Liberation Sans', sans-serif" font-size="15" fill="#1a1a1a" text-anchor="middle">16</text>
<text x="184.8" y="515.2" font-family="'Liberation Sans', sans-serif" font-size="15" fill="#1a1a1a" text-anchor="middle">16</text>
<text x="233.8" y="515.2" font-family="'Liberation Sans', sans-serif" font-size="15" fill="#1a1a1a" text-anchor="middle">15</text>
<text x="268.9" y="515.2" font-family="'Liberation Sans', sans-serif" font-size="15" fill="#1a1a1a" text-anchor="middle">14</text>
<text x="316.5" y="515.2" font-family="'Liberation Sans', sans-serif" font-size="15" fill="#1a1a1a" text-anchor="middle">14</text>
<text x="352" y="515.2" font-family="'Liberation Sans', sans-serif" font-size="15" fill="#1a1a1a" text-anchor="middle">14</text>
<text x="390.4" y="515.2" font-family="'Liberation Sans', sans-serif" font-size="15" fill="#1a1a1a" text-anchor="middle">13</text>
<text x="418.8" y="515.2" font-family="'Liberation Sans', sans-serif" font-size="15" fill="#1a1a1a" text-anchor="middle">9</text>
<text x="442.5" y="515.2" font-family="'Liberation Sans', sans-serif" font-size="15" fill="#1a1a1a" text-anchor="middle">9</text>
<text x="467.7" y="515.2" font-family="'Liberation Sans', sans-serif" font-size="15" fill="#1a1a1a" text-anchor="middle">8</text>
<text x="488" y="515.2" font-family="'Liberation Sans', sans-serif" font-size="15" fill="#1a1a1a" text-anchor="middle">7</text>
<text x="510.4" y="515.2" font-family="'Liberation Sans', sans-serif" font-size="15" fill="#1a1a1a" text-anchor="middle">6</text>
<text x="531.7" y="515.2" font-family="'Liberation Sans', sans-serif" font-size="15" fill="#1a1a1a" text-anchor="middle">5</text>
<text x="553" y="515.2" font-family="'Liberation Sans', sans-serif" font-size="15" fill="#1a1a1a" text-anchor="middle">5</text>
<text x="574.4" y="515.2" font-family="'Liberation Sans', sans-serif" font-size="15" fill="#1a1a1a" text-anchor="middle">4</text>
<text x="595.8" y="515.2" font-family="'Liberation Sans', sans-serif" font-size="15" fill="#1a1a1a" text-anchor="middle">4</text>
<text x="617.1" y="515.2" font-family="'Liberation Sans', sans-serif" font-size="15" fill="#1a1a1a" text-anchor="middle">2</text>
<text x="638" y="515.2" font-family="'Liberation Sans', sans-serif" font-size="15" fill="#1a1a1a" text-anchor="middle">0</text>
<text x="352.4" y="515.2" font-family="'Liberation Sans', sans-serif" font-size="15" fill="#1a1a1a" text-anchor="middle">14</text>
<text x="355.9" y="968.2" font-family="'Liberation Sans', sans-serif" font-size="15" fill="#1a1a1a">Log</text>
<text x="380.4" y="968.8" font-family="'Liberation Serif', serif" font-size="17.5" fill="#1a1a1a">(</text>
<text transform="translate(384.9,968.2) scale(1.33,1.02)" font-family="'Liberation Serif', serif" font-size="15" fill="#1a1a1a">λ</text>
<text x="395.2" y="968.8" font-family="'Liberation Serif', serif" font-size="17.5" fill="#1a1a1a">)</text>
<text transform="translate(22.9,719.5) rotate(-90)" font-family="'Liberation Sans', sans-serif" font-size="15" fill="#1a1a1a" text-anchor="middle">Binomial Deviance</text>
<text x="11.9" y="517.0" font-family="'Liberation Serif', serif" font-weight="bold" font-size="19.6" fill="#000">B</text>
</svg>
</body></html>
